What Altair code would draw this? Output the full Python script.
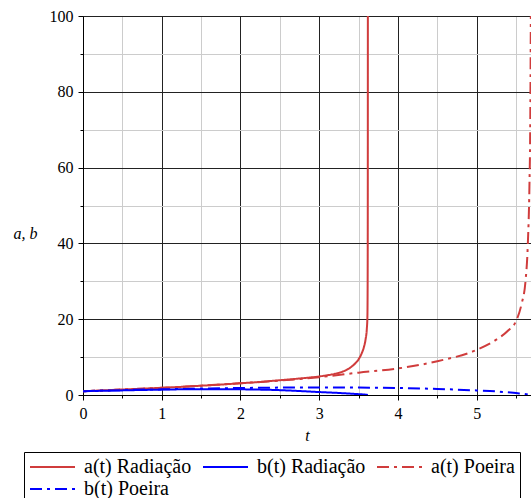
import altair as alt
import pandas as pd

# ---- data ----
series_names = ["a(t) Radiação", "b(t) Radiação", "a(t) Poeira", "b(t) Poeira"]

t_a_rad = [0, 0.25, 0.5, 0.75, 1.0, 1.25, 1.5, 1.75, 2.0, 2.25, 2.5, 2.75, 3.0, 3.1, 3.2,
           3.3, 3.38, 3.45, 3.5, 3.54, 3.57, 3.59, 3.605, 3.612, 3.615, 3.617, 3.618]
a_rad = [1.0, 1.22, 1.45, 1.67, 1.9, 2.15, 2.45, 2.75, 3.1, 3.45, 3.9, 4.35, 4.9, 5.2, 5.6,
         6.2, 7.0, 8.2, 9.4, 11.0, 12.8, 14.8, 17.5, 20.5, 28.0, 50.0, 100.0]

t_b_rad = [0, 0.5, 1.0, 1.5, 2.0, 2.5, 3.0, 3.3, 3.5, 3.6, 3.618]
b_rad = [1.0, 1.22, 1.42, 1.55, 1.5, 1.28, 0.78, 0.48, 0.22, 0.06, 0.0]

t_a_dust = [0, 0.5, 1.0, 1.5, 2.0, 2.5, 3.0, 3.5, 4.0, 4.5, 5.0, 5.25, 5.4, 5.5, 5.57,
            5.62, 5.65, 5.67, 5.68, 5.688]
a_dust = [1.0, 1.45, 1.9, 2.45, 3.1, 3.8, 4.7, 5.9, 7.0, 8.9, 11.9, 14.6, 17.0, 19.5, 24.0,
          30.0, 40.0, 55.0, 70.0, 100.0]

t_b_dust = [0, 0.5, 1.0, 1.5, 2.0, 2.5, 3.0, 3.5, 4.0, 4.5, 5.0, 5.25, 5.5, 5.65, 5.688]
b_dust = [1.0, 1.3, 1.5, 1.7, 1.85, 1.95, 2.0, 1.95, 1.85, 1.6, 1.2, 0.95, 0.5, 0.15, 0.0]

x_ticks = [0, 0.5, 1, 1.5, 2, 2.5, 3, 3.5, 4, 4.5, 5, 5.5]
y_ticks = [0, 10, 20, 30, 40, 50, 60, 70, 80, 90, 100]

rows = []
for name, ts, vs in [(series_names[0], t_a_rad, a_rad), (series_names[1], t_b_rad, b_rad),
                     (series_names[2], t_a_dust, a_dust), (series_names[3], t_b_dust, b_dust)]:
    for i, (t, v) in enumerate(zip(ts, vs)):
        rows.append({"t": t, "v": v, "series": name, "order": i})
df = pd.DataFrame(rows)

FONT = "Liberation Serif"
RED = "#d03c3c"
BLUE = "#0000ff"
DASH = [12, 5, 3, 5]

major_x = "datum.value % 1 === 0"
major_y = "datum.value % 20 === 0"

chart = alt.Chart(df).mark_line(strokeWidth=2, clip=True, interpolate="monotone").encode(
    x=alt.X("t:Q", scale=alt.Scale(domain=[0, 5.69], nice=False, zero=False),
            axis=alt.Axis(values=x_ticks, title="t",
                          labelExpr=f"{major_x} ? format(datum.value, 'd') : ''",
                          labelFlush=False, labelOverlap=False,
                          labelFont=FONT, labelFontSize=16, labelColor="black",
                          grid=True,
                          gridColor={"condition": {"test": major_x, "value": "#222222"}, "value": "#cccccc"},
                          gridWidth=1,
                          tickSize={"condition": {"test": major_x, "value": 5}, "value": 3},
                          tickColor="black", domainColor="black",
                          labelPadding=5, titleFont=FONT, titleFontSize=16,
                          titleFontStyle="italic", titleFontWeight="normal",
                          titleBaseline="middle", titleY=40)),
    y=alt.Y("v:Q", scale=alt.Scale(domain=[0, 100], nice=False),
            axis=alt.Axis(values=y_ticks, title="a, b",
                          labelExpr=f"{major_y} ? format(datum.value, 'd') : ''",
                          labelFlush=False, labelOverlap=False,
                          labelFont=FONT, labelFontSize=16, labelColor="black",
                          grid=True,
                          gridColor={"condition": {"test": major_y, "value": "#222222"}, "value": "#cccccc"},
                          gridWidth=1,
                          tickSize={"condition": {"test": major_y, "value": 5}, "value": 3},
                          tickColor="black", domainColor="black",
                          labelPadding=5, titleFont=FONT, titleFontSize=16,
                          titleFontStyle="italic", titleFontWeight="normal",
                          titleAngle=0, titleAlign="center", titleBaseline="middle",
                          titleX=-58, titleY=217)),
    color=alt.Color("series:N", scale=alt.Scale(domain=series_names, range=[RED, BLUE, RED, BLUE]),
                    legend=alt.Legend(title=None, orient="none", legendX=-59, legendY=436,
                                      direction="horizontal", columns=3,
                                      symbolType="stroke", symbolSize=2025, symbolStrokeWidth=2,
                                      clipHeight=20, rowPadding=2, columnPadding=10,
                                      labelOffset=8, labelFont=FONT, labelFontSize=20,
                                      labelColor="black", strokeColor="black", padding=5)),
    strokeDash=alt.StrokeDash("series:N", scale=alt.Scale(domain=series_names,
                                                          range=[[1, 0], [1, 0], DASH, DASH]),
                              title=None),
    order="order:Q",
    detail="series:N",
).properties(
    width=448, height=379,
    autosize=alt.AutoSizeParams(type="none"),
    padding={"left": 83, "top": 16, "right": 0, "bottom": 103},
    background="white",
).configure_view(stroke=None)

chart.save("out.html", embed_options={"renderer": "svg", "actions": False})
